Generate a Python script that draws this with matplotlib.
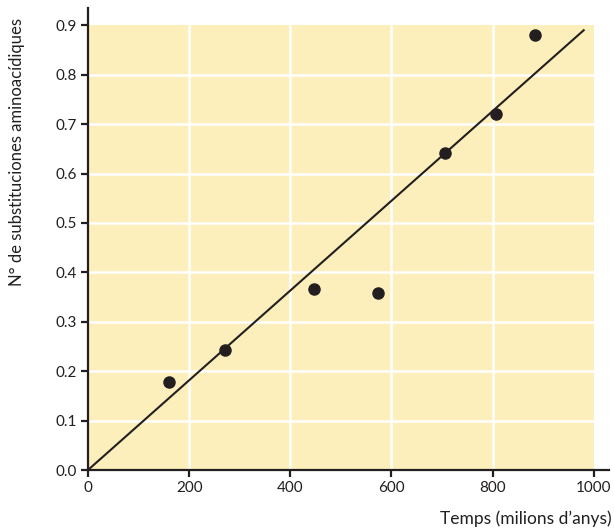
import matplotlib
matplotlib.use("Agg")
import matplotlib.pyplot as plt
from matplotlib.patches import Rectangle

plt.rcParams["font.family"] = ["Lato", "DejaVu Sans"]

# data
temps = [160, 271, 447, 573, 706, 806, 884]
substitucions = [0.178, 0.243, 0.366, 0.359, 0.642, 0.721, 0.881]
fit_x = [0, 980]
fit_y = [0.0, 0.89]

x_ticks = [0, 200, 400, 600, 800, 1000]
y_ticks = [0.0, 0.1, 0.2, 0.3, 0.4, 0.5, 0.6, 0.7, 0.8, 0.9]
x_max, y_max = 1000, 0.9

ink = "#231f20"
paper = "#fdefbb"

fig = plt.figure(figsize=(6.14, 5.31), dpi=100)
ax = fig.add_axes([88 / 614, 61 / 531, 521 / 614, 462 / 531])
ax.set_xlim(0, 1030)
ax.set_ylim(0, 0.935)

ax.add_patch(Rectangle((0, 0), x_max, y_max, facecolor=paper, edgecolor="none", zorder=0))
ax.vlines(x_ticks[1:-1], 0, y_max, colors="white", linewidth=1.8, zorder=1)
ax.hlines(y_ticks[1:-1], 0, x_max, colors="white", linewidth=1.8, zorder=1)

ax.plot(fit_x, fit_y, color=ink, linewidth=1.5, zorder=3)
ax.plot(temps, substitucions, "o", color=ink, markersize=8, zorder=4)

for side in ("top", "right"):
    ax.spines[side].set_visible(False)
for side in ("left", "bottom"):
    ax.spines[side].set_linewidth(1.6)
    ax.spines[side].set_color(ink)
    ax.spines[side].set_zorder(5)

ax.set_xticks(x_ticks)
ax.set_xticklabels([str(t) for t in x_ticks])
ax.set_yticks(y_ticks)
ax.set_yticklabels([f"{t:.1f}" for t in y_ticks])
ax.tick_params(direction="out", length=5, width=1.6, color=ink, labelcolor=ink, labelsize=11, pad=3)

fig.text(17 / 614, 1 - 18 / 531, "N° de substituciones aminoacídiques", rotation=90,
         ha="center", va="top", fontsize=12, color=ink)
fig.text(612 / 614, 1 - 519 / 531, "Temps (milions d’anys)",
         ha="right", va="center", fontsize=12.5, color=ink)

fig.savefig("out.png", dpi=100)
